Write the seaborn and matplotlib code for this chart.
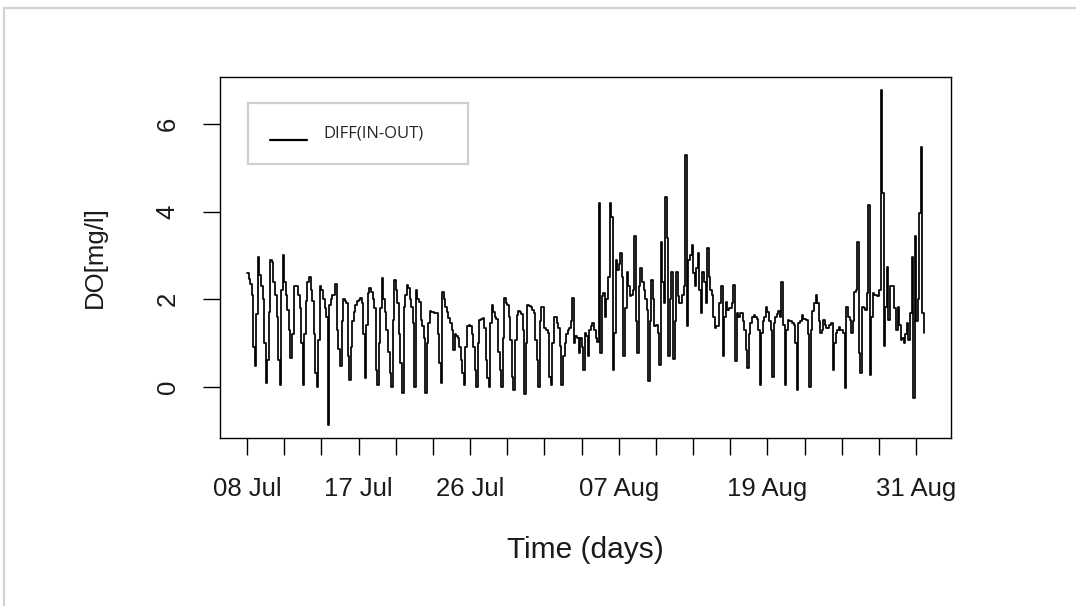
import numpy as np
import pandas as pd
import matplotlib
matplotlib.use("Agg")
import matplotlib.pyplot as plt
from matplotlib.patches import Rectangle
from matplotlib.ticker import FixedLocator, FixedFormatter
from matplotlib.font_manager import FontProperties
import seaborn as sns

# Dissolved-oxygen difference between inlet and outlet (mg/l),
# 3-hourly readings starting 08 Jul 00:00, one row per day.
do_jul_a = [
    2.59, 2.45, 2.35, 2.10, 0.90, 0.46, 1.65, 2.95,
    2.55, 2.30, 2.00, 1.00, 0.08, 0.60, 1.70, 2.90,
    2.85, 2.40, 2.10, 1.60, 0.60, 0.04, 2.20, 3.00,
    2.40, 2.10, 1.75, 1.30, 0.65, 1.20, 2.30, 2.30,
    2.30, 2.10, 1.80, 1.00, 0.04, 1.20, 1.95, 2.40,
    2.50, 2.20, 1.95, 1.20, 0.30, 0.00, 1.07, 2.30,
    2.20, 2.00, 1.80, 1.60, -0.87, 1.87, 2.00, 2.10,
    2.10, 2.34, 1.30, 0.85, 0.46, 1.50, 2.00, 1.95,
    1.90, 0.70, 0.16, 0.90, 1.50, 1.70, 1.87, 1.95,
    1.99, 2.02, 1.90, 1.20, 0.20, 1.40, 2.14, 2.25,
    2.17, 2.00, 1.80, 0.39, 0.04, 1.00, 1.80, 2.48,
    2.00, 1.70, 1.30, 0.80, 0.30, 0.00, 1.52, 2.44,
    2.20, 1.90, 1.20, 0.55, -0.15, 1.83, 2.10, 2.33,
    2.25, 2.00, 1.83, 1.45, 0.00, 2.21, 2.00, 1.94,
]
do_jul_b = [
    1.52, 1.38, 1.10, -0.15, 1.00, 1.45, 1.72, 1.70,
    1.70, 1.68, 1.68, 1.20, 0.55, 0.08, 2.17, 2.00,
    1.83, 1.70, 1.56, 1.45, 1.30, 0.84, 1.20, 1.15,
    1.10, 0.90, 0.60, 0.31, 0.04, 0.90, 1.38, 1.40,
    1.38, 1.20, 0.90, 0.39, 0.00, 1.00, 1.53, 1.55,
    1.56, 1.34, 0.60, 0.20, 0.00, 1.45, 1.87, 1.70,
    1.60, 1.55, 0.80, 0.39, 0.00, 1.10, 2.02, 1.90,
    1.87, 1.60, 1.07, 0.23, -0.07, 1.07, 1.64, 1.72,
    1.70, 1.65, 1.30, -0.18, 1.00, 1.87, 1.85, 1.83,
    1.75, 1.68, 1.07, 0.60, 0.00, 1.50, 1.83, 1.83,
    1.34, 1.30, 1.22, 0.23, 0.04, 1.00, 1.60, 1.60,
    1.45, 1.35, 0.92, 0.04, 0.70, 1.00, 1.20, 1.30,
    1.35, 1.50, 2.02, 1.00, 1.15, 1.10, 0.76, 1.10,
    0.90, 0.39, 1.22, 1.15, 0.69, 1.30, 1.38, 1.45,
]
do_aug_a = [
    1.30, 1.10, 1.03, 4.19, 0.77, 2.06, 2.14, 1.60,
    2.00, 2.51, 4.19, 3.88, 0.39, 1.22, 2.90, 2.67,
    2.80, 3.05, 2.51, 0.69, 1.80, 2.63, 2.30, 2.06,
    2.10, 2.21, 3.43, 1.50, 0.77, 2.29, 2.71, 2.40,
    2.21, 2.00, 1.76, 0.12, 1.50, 2.44, 2.00, 1.38,
    1.40, 1.22, 0.50, 3.31, 2.40, 1.90, 4.34, 3.39,
    0.69, 2.00, 2.63, 0.62, 1.50, 2.63, 2.06, 1.91,
    1.91, 2.10, 2.29, 5.30, 1.38, 2.90, 3.00, 3.24,
    2.60, 2.29, 2.70, 3.05, 2.20, 1.68, 2.63, 2.40,
    1.91, 3.16, 2.50, 2.21, 2.10, 1.60, 1.34, 1.38,
    1.38, 1.90, 2.29, 0.69, 1.60, 1.94, 1.76, 1.80,
    1.80, 1.90, 2.33, 0.58, 1.68, 1.60, 1.68, 1.68,
    1.50, 1.30, 0.84, 0.43, 1.20, 1.45, 1.60, 1.64,
    1.60, 1.55, 1.30, 0.04, 1.22, 1.50, 1.60, 1.83,
]
do_aug_b = [
    1.70, 1.50, 1.30, 0.23, 1.45, 1.60, 1.65, 1.72,
    1.60, 2.40, 1.40, 0.04, 1.30, 1.53, 1.50, 1.50,
    1.45, 1.40, 1.00, -0.07, 1.45, 1.50, 1.64, 1.55,
    1.55, 1.53, 1.20, 0.00, 1.30, 1.72, 1.90, 2.10,
    1.90, 1.50, 1.22, 1.30, 1.53, 1.40, 1.35, 1.34,
    1.40, 1.45, 0.39, 1.00, 1.22, 1.30, 1.37, 1.30,
    1.30, 1.22, -0.03, 1.83, 1.60, 1.53, 1.22, 1.50,
    2.17, 2.20, 3.31, 0.77, 0.31, 1.83, 1.80, 1.75,
    2.13, 4.15, 0.27, 1.60, 2.13, 2.10, 2.10, 2.06,
    2.20, 6.77, 4.42, 0.92, 1.83, 2.74, 1.53, 2.29,
    2.29, 2.29, 1.80, 1.30, 1.83, 1.40, 1.07, 1.10,
    0.99, 1.20, 1.45, 1.07, 1.68, 2.97, -0.26, 3.43,
    1.50, 2.00, 3.96, 5.48, 1.68, 1.22,
]

series_label = "DIFF(IN-OUT)"
start_time = "2015-07-08 00:00"
sample_step = "3h"
tick_step = "3D"
tick_first, tick_last = "2015-07-08", "2015-08-31"
labelled_ticks = ["08 Jul", "17 Jul", "26 Jul", "07 Aug", "19 Aug", "31 Aug"]
y_ticks = [0, 2, 4, 6]

values = do_jul_a + do_jul_b + do_aug_a + do_aug_b
df = pd.DataFrame({
    "time": pd.date_range(start_time, periods=len(values), freq=sample_step),
    "do": values,
})

sns.set_style("ticks")
plt.rcParams["font.family"] = ["Liberation Sans", "DejaVu Sans"]

W, H = 1076, 606
fig = plt.figure(figsize=(W / 100, H / 100), dpi=100)
ax = fig.add_axes([220 / W, 1 - 438 / H, 731 / W, 361 / H])

# logger readings are held until the next sample, so draw as steps
sns.lineplot(data=df, x="time", y="do", color="black", linewidth=1.25,
             drawstyle="steps-post", label=series_label, ax=ax)
ax.margins(x=0.04, y=0.04)

for s in ax.spines.values():
    s.set_color("black")
    s.set_linewidth(1.0)

# x axis: a tick every three days, names on selected dates
tick_dates = pd.date_range(tick_first, tick_last, freq=tick_step)
tick_nums = matplotlib.dates.date2num(tick_dates)
tick_text = [d.strftime("%d %b") if d.strftime("%d %b") in labelled_ticks else ""
             for d in tick_dates]
ax.xaxis.set_major_locator(FixedLocator(tick_nums))
ax.xaxis.set_major_formatter(FixedFormatter(tick_text))

ax.set_yticks(y_ticks)
ax.set_yticklabels([str(v) for v in y_ticks], rotation=90, va="center")

ax.tick_params(axis="both", direction="out", length=12, width=1.0,
               color="black", labelsize=18.5, labelcolor="#1a1a1a")
ax.tick_params(axis="x", pad=16)
ax.tick_params(axis="y", pad=17)

ax.set_xlabel("Time (days)", fontsize=21.5, color="#1a1a1a", labelpad=25)
ax.set_ylabel("DO[mg/l]", fontsize=18.5, color="#1a1a1a", labelpad=35)

leg = ax.legend(loc="upper left", bbox_to_anchor=(0.0383, 0.928, 0.301, 0.0),
                mode="expand", borderaxespad=0, frameon=True, fancybox=False,
                borderpad=1.35, handlelength=2.2, handletextpad=1.0,
                prop=FontProperties(family="Open Sans", size=12))
frame = leg.get_frame()
frame.set_edgecolor("#cfcfcf")
frame.set_linewidth(1.6)
frame.set_facecolor("white")
frame.set_alpha(1)
for hl in leg.get_lines():
    hl.set_linewidth(1.6)
    hl.set_drawstyle("default")
    hl.set_ydata(np.asarray(hl.get_ydata()) - 6)

# light outer frame around the figure
fig.add_artist(Rectangle((3.5 / W, -0.2), 1.5, 1.2 - 8 / H, transform=fig.transFigure,
                         fill=False, edgecolor="#d2d2d2", linewidth=1.6))

fig.savefig("out.png", dpi=100, facecolor="white")
